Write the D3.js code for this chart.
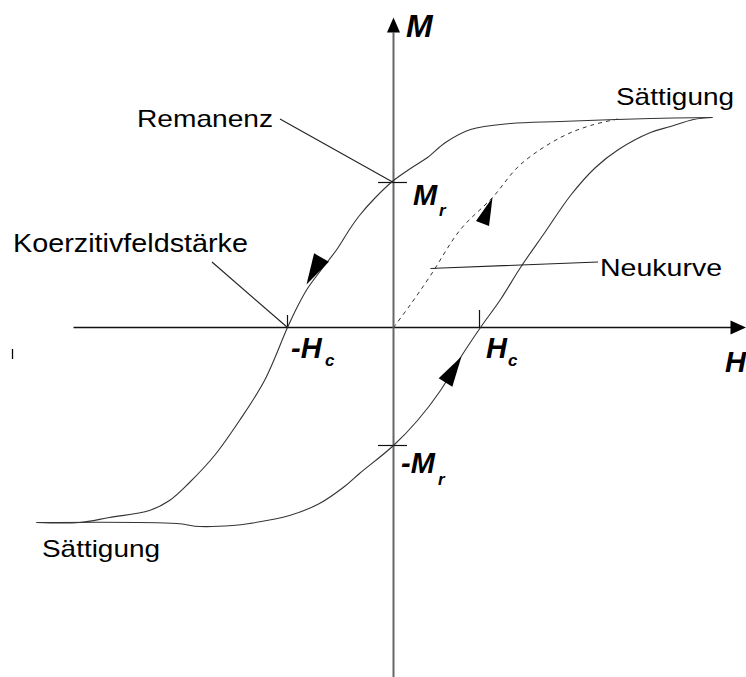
<!DOCTYPE html>
<html>
<head>
<meta charset="utf-8">
<script src="https://cdn.jsdelivr.net/npm/d3@7"></script>
<style>
  body { margin: 0; background: #fff; }
  text { font-family: "Liberation Sans", Arial, sans-serif; fill: #000; }
  .sym { font-weight: bold; font-style: italic; }
</style>
</head>
<body>
<div id="chart"></div>
<script>
// values, H and M in arbitrary units (origin = axis crossing)
const descending = [
  [3.19, 2.10], [2.57, 2.09], [1.67, 2.06], [1.17, 2.04], [0.77, 1.98], [0.52, 1.85],
  [0.34, 1.70], [0.17, 1.59], [0.0, 1.47], [-0.19, 1.29], [-0.34, 1.12], [-0.44, 0.98],
  [-0.56, 0.79], [-0.72, 0.58], [-0.86, 0.39], [-0.96, 0.21], [-1.06, 0.0], [-1.29, -0.53],
  [-1.54, -0.93], [-1.79, -1.28], [-2.04, -1.55], [-2.24, -1.73], [-2.44, -1.83],
  [-2.84, -1.90], [-3.14, -1.95], [-3.57, -1.95]
];
const ascending = [
  [-3.57, -1.95], [-2.17, -1.96], [-1.94, -1.99], [-1.61, -1.98], [-1.44, -1.96],
  [-1.04, -1.88], [-0.74, -1.76], [-0.49, -1.59], [-0.34, -1.46], [0.0, -1.18],
  [0.24, -0.93], [0.47, -0.63], [0.67, -0.30], [0.87, 0.0], [1.07, 0.28], [1.27, 0.60],
  [1.52, 0.96], [1.77, 1.32], [2.02, 1.60], [2.25, 1.78], [2.57, 1.95], [2.77, 2.01],
  [3.0, 2.08], [3.19, 2.10]
];
const virgin = [
  [0.0, 0.0], [0.17, 0.23], [0.37, 0.52], [0.67, 0.98], [0.99, 1.30], [1.27, 1.63],
  [1.67, 1.90], [1.97, 2.02], [2.27, 2.09]
];
// direction arrows: tip and tail of each
const arrows = [
  { tip: [-0.87, 0.43], tail: [-0.72, 0.70] },
  { tip: [0.68, -0.29], tail: [0.52, -0.55] },
  { tip: [0.99, 1.30], tail: [0.89, 1.04] }
];
const Mr = 1.45, negMr = -1.18, Hc = 0.87, negHc = -1.06;
const labelText = ["Remanenz", "Koerzitivfeldstärke", "Neukurve", "Sättigung", "Sättigung"];

const W = 746, H = 677;
const x = d3.scaleLinear().domain([0, 1]).range([393.5, 493.5]);
const y = d3.scaleLinear().domain([0, 1]).range([327.5, 227.5]);

const svg = d3.select("#chart").append("svg")
  .attr("width", W).attr("height", H);

// axes
svg.append("line")
  .attr("x1", x(-3.2)).attr("x2", x(3.4))
  .attr("y1", y(0)).attr("y2", y(0))
  .attr("stroke", "#111").attr("stroke-width", 1.4);
svg.append("path")
  .attr("d", `M${x(3.525)},${y(0)} L${x(3.37)},${y(0) - 7} L${x(3.37)},${y(0) + 7} Z`)
  .attr("fill", "#000");
svg.append("line")
  .attr("x1", x(0)).attr("x2", x(0))
  .attr("y1", y(2.95)).attr("y2", H)
  .attr("stroke", "#666").attr("stroke-width", 2);
svg.append("path")
  .attr("d", `M${x(0)},${y(3.1)} L${x(0) - 6.5},${y(2.95)} L${x(0) + 6.5},${y(2.95)} Z`)
  .attr("fill", "#000");

// stray tick at far left
svg.append("line")
  .attr("x1", 12.5).attr("x2", 12.5).attr("y1", y(-0.215)).attr("y2", y(-0.315))
  .attr("stroke", "#000").attr("stroke-width", 1.3);

// ticks on the axes
const tick = (x1, y1, x2, y2) => svg.append("line")
  .attr("x1", x1).attr("y1", y1).attr("x2", x2).attr("y2", y2)
  .attr("stroke", "#111").attr("stroke-width", 1.2);
tick(x(-0.155), y(Mr), x(0.135), y(Mr));
tick(x(-0.155), y(negMr), x(0.135), y(negMr));
tick(x(negHc), y(0), x(negHc), y(0.125));
tick(x(Hc) - 1, y(0), x(Hc) - 1, y(0.175));

// curves
const line = d3.line()
  .x(d => x(d[0])).y(d => y(d[1]))
  .curve(d3.curveCatmullRom.alpha(0.5));
svg.append("path").datum(descending).attr("d", line)
  .attr("fill", "none").attr("stroke", "#333").attr("stroke-width", 1.1);
svg.append("path").datum(ascending).attr("d", line)
  .attr("fill", "none").attr("stroke", "#333").attr("stroke-width", 1.1);
svg.append("path").datum(virgin).attr("d", line)
  .attr("fill", "none").attr("stroke", "#333").attr("stroke-width", 1)
  .attr("stroke-dasharray", "4,4");

// arrow heads
const arrowW = [17, 16, 14];
arrows.forEach((a, i) => {
  const tx = x(a.tip[0]), ty = y(a.tip[1]);
  const bx = x(a.tail[0]), by = y(a.tail[1]);
  const dx = tx - bx, dy = ty - by, len = Math.hypot(dx, dy);
  const nx = -dy / len * arrowW[i] / 2, ny = dx / len * arrowW[i] / 2;
  svg.append("path")
    .attr("d", `M${tx},${ty} L${bx + nx},${by + ny} L${bx - nx},${by - ny} Z`)
    .attr("fill", "#000");
});

// leader lines
const leader = (pts) => svg.append("path")
  .attr("d", d3.line()(pts))
  .attr("fill", "none").attr("stroke", "#222").attr("stroke-width", 1.1);
leader([[280, 119], [x(0), y(Mr)]]);
leader([[212, 262], [x(negHc), y(0)]]);
leader([[x(0.37), 268.5], [442, 268], [598, 262]]);

// text labels
const label = (t, px, py, size, len) => {
  const el = svg.append("text").attr("x", px).attr("y", py)
    .style("font-size", size + "px").text(t);
  if (len) el.attr("textLength", len).attr("lengthAdjust", "spacingAndGlyphs");
  return el;
};
label(labelText[0], 137, 127, 24, 136);
label(labelText[1], 13, 252, 25, 235);
label(labelText[2], 600, 276, 24, 122);
label(labelText[3], 616, 105, 24, 118);
label(labelText[4], 42, 557, 24, 118);

// axis symbols
const sym = (t, px, py, size) => svg.append("text").attr("class", "sym")
  .attr("x", px).attr("y", py).style("font-size", size + "px").text(t);
sym("M", 406, 37, 32);
sym("H", 725, 372, 29);
sym("M", 413, 205, 29);
sym("r", 439, 216, 17);
sym("-M", 401, 473, 29);
sym("r", 438, 485, 17);
sym("-H", 291, 358, 29);
sym("c", 325, 366, 17);
sym("H", 486, 358, 29);
sym("c", 508, 366, 17);
</script>
</body>
</html>
